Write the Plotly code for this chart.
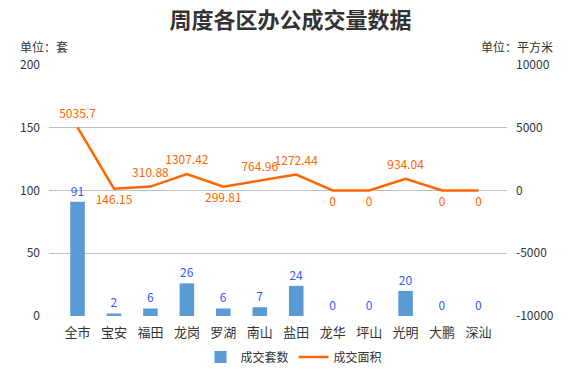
import plotly.graph_objects as go

categories = ["全市", "宝安", "福田", "龙岗", "罗湖", "南山", "盐田", "龙华", "坪山", "光明", "大鹏", "深汕"]
units_count = [91, 2, 6, 26, 6, 7, 24, 0, 0, 20, 0, 0]
area = [5035.7, 146.15, 310.88, 1307.42, 299.81, 764.96, 1272.44, 0, 0, 934.04, 0, 0]
area_label_pos = ["top center", "bottom center", "top center", "top center", "bottom center", "top center",
                  "top center", "bottom center", "bottom center", "top center", "bottom center", "bottom center"]
left_ticks = [0, 50, 100, 150, 200]
right_ticks = [-10000, -5000, 0, 5000, 10000]

FONT = "Noto Sans CJK SC"

fig = go.Figure()
fig.add_trace(go.Bar(
    x=categories, y=units_count, name="成交套数",
    marker=dict(color="#5b9bd5", line=dict(width=0)),
    width=0.4,
    text=[str(v) for v in units_count], textposition="outside",
    textfont=dict(color="#2f5cff", size=12, family=FONT),
    cliponaxis=False,
))
fig.add_trace(go.Scatter(
    x=categories, y=area, name="成交面积", yaxis="y2",
    mode="lines",
    line=dict(color="#ff6600", width=2.5),
    cliponaxis=False,
))
fig.add_trace(go.Scatter(
    x=categories, y=area, name="成交面积", yaxis="y2", showlegend=False,
    mode="markers+text",
    marker=dict(size=9, opacity=0, color="#ff6600"),
    text=[f"{v:g}" for v in area], textposition=area_label_pos,
    textfont=dict(color="#ff6600", size=12, family=FONT),
    cliponaxis=False, hoverinfo="skip",
))

fig.update_layout(
    width=581, height=370,
    margin=dict(l=49, r=74, t=65, b=54, autoexpand=False),
    paper_bgcolor="white", plot_bgcolor="white",
    font=dict(family=FONT, size=12, color="#333333"),
    title=dict(text="<b>周度各区办公成交量数据</b>", x=0.5, xanchor="center",
               yref="container", y=1 - 20 / 370, yanchor="middle",
               font=dict(size=22, color="#333333", family=FONT)),
    xaxis=dict(showgrid=False, showline=False, ticks="", ticklabelstandoff=7,
               tickfont=dict(size=13, color="#333333")),
    yaxis=dict(range=[0, 200], tickvals=left_ticks, showgrid=True, gridcolor="#c0c0c0", gridwidth=1,
               zeroline=False, showline=False, ticks="", ticklabelstandoff=8,
               tickfont=dict(size=12, color="#333333")),
    yaxis2=dict(range=[-10000, 10000], tickvals=right_ticks, ticktext=[str(v) for v in right_ticks],
                overlaying="y", side="right",
                showgrid=False, zeroline=False, showline=False, ticks="", ticklabelstandoff=8,
                tickfont=dict(size=12, color="#333333")),
    showlegend=True,
    legend=dict(orientation="h", x=0.535, xanchor="center", yref="container", y=1 - 357 / 370,
                yanchor="middle", font=dict(size=12, color="#333333")),
    annotations=[
        dict(text="单位：套", xref="paper", yref="paper", x=-0.068, y=1.075, xanchor="left", yanchor="middle",
             showarrow=False, font=dict(size=12, color="#333333")),
        dict(text="单位：平方米", xref="paper", yref="paper", x=1.105, y=1.075, xanchor="right", yanchor="middle",
             showarrow=False, font=dict(size=12, color="#333333")),
    ],
)

fig.write_html("out.html", config={"displayModeBar": False},
               post_script="document.body.style.margin='0';")
